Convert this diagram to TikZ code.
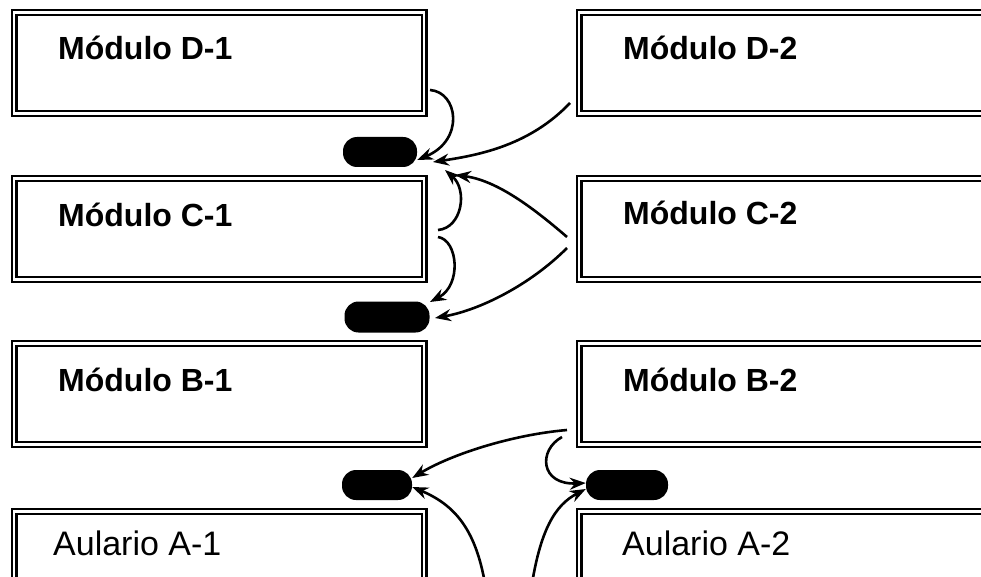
\documentclass[tikz,border=0pt]{standalone}
\usepackage{fontspec}
\setmainfont{Liberation Sans}
\usetikzlibrary{arrows.meta}
\tikzset{
  box/.style={draw, line width=2.3pt, double=white, double distance=2.4pt,
    minimum width=410pt, minimum height=101pt, inner sep=0pt},
  boxr/.style={box, minimum width=422pt},
  pill/.style={fill=black, rounded corners=14pt, inner sep=0pt},
  modlbl/.style={anchor=base west, inner sep=0pt, font=\fontsize{32}{36}\selectfont\bfseries},
  aullbl/.style={anchor=base west, inner sep=0pt, font=\fontsize{34}{38}\selectfont},
  conn/.style={line width=2.6pt, -{Stealth[length=16pt,width=12pt]}}
}
\begin{document}
\begin{tikzpicture}[x=1pt,y=-1pt]
	\useasboundingbox (0,0) rectangle (981,577);
	% buildings
	\node [box] (d1) at (219,63) {};
	\node [box] (c1) at (219,229) {};
	\node [box] (b1) at (219,394) {};
	\node [box] (a1) at (219,562) {};
	\node [boxr] (d2) at (790,63) {};
	\node [boxr] (c2) at (790,229) {};
	\node [boxr] (b2) at (790,394) {};
	\node [boxr] (a2) at (790,562) {};
	\node [modlbl] (d1t) at (58,60) {Módulo D-1};
	\node [modlbl] (c1t) at (58,226) {Módulo C-1};
	\node [modlbl] (b1t) at (58,391) {Módulo B-1};
	\node [aullbl] (a1t) at (53,555) {Aulario A-1};
	\node [modlbl] (d2t) at (623,60) {Módulo D-2};
	\node [modlbl] (c2t) at (623,225) {Módulo C-2};
	\node [modlbl] (b2t) at (623,391) {Módulo B-2};
	\node [aullbl] (a2t) at (622,555) {Aulario A-2};
	% black pills
	\node [pill, minimum width=74pt, minimum height=30pt] (p1) at (380,152) {};
	\node [pill, minimum width=85pt, minimum height=31pt] (p2) at (387,317) {};
	\node [pill, minimum width=70pt, minimum height=30pt] (p3) at (377,485) {};
	\node [pill, minimum width=82pt, minimum height=30pt] (p4) at (627,485) {};
	% free ends
	\coordinate (s1) at (430,90);
	\coordinate (s2) at (570,103);
	\coordinate (s3) at (438,230);
	\coordinate (s4) at (567,237);
	\coordinate (s5) at (438,237);
	\coordinate (s6) at (567,248);
	\coordinate (s7) at (567,430);
	\coordinate (s8) at (562,437);
	\coordinate (s9) at (486,590);
	\coordinate (s10) at (531,590);
	\coordinate (e2) at (433,162);
	\coordinate (e3) at (445,170);
	\coordinate (e4) at (455,175);
	\coordinate (e5) at (430,302);
	\coordinate (e6) at (435,318);
	% connectors
	\draw [conn] (s1) .. controls (458,92) and (465,140) .. (p1.east |- 0,160);
	\draw [conn] (s2) .. controls (530,145) and (480,155) .. (e2);
	\draw [conn] (s3) .. controls (462,228) and (468,190) .. (e3);
	\draw [conn] (s4) .. controls (530,205) and (495,180) .. (e4);
	\draw [conn] (s5) .. controls (458,240) and (462,285) .. (e5);
	\draw [conn] (s6) .. controls (530,285) and (480,310) .. (e6);
	\draw [conn] (s7) .. controls (510,435) and (450,455) .. (p3.east |- 0,478);
	\draw [conn] (s8) .. controls (538,450) and (540,485) .. (p4.west |- 0,483);
	\draw [conn] (s9) .. controls (477,530) and (455,505) .. (p3.east |- 0,487);
	\draw [conn] (s10) .. controls (540,530) and (555,505) .. (p4.west |- 0,489);
\end{tikzpicture}
\end{document}
